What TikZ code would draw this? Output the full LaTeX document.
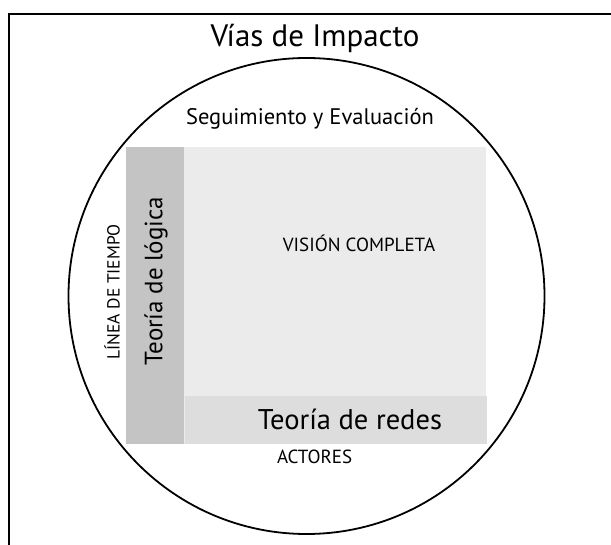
\documentclass[tikz,border=0pt]{standalone}
\usepackage{fontspec}
\setmainfont{PT Sans}
\usetikzlibrary{positioning}
\definecolor{visiongray}{HTML}{EBEBEB}
\definecolor{logicagray}{HTML}{C4C4C4}
\definecolor{redesgray}{HTML}{DDDDDD}
\newcommand{\pxfont}[1]{\fontsize{#1}{#1}\selectfont}

\begin{document}
\begin{tikzpicture}[x=1pt,y=-1pt]
\tikzset{
    area/.style={rectangle, draw=none, inner sep=0pt, anchor=north west},
    caption/.style={inner sep=1pt, text=black}
}
\useasboundingbox (0,0) rectangle (611,545);
\draw[line width=2pt] (9,545) -- (9,14) -- (611,14);
\node[circle, draw, line width=1.8pt, minimum size=476pt, inner sep=0pt] (ring) at (306.5,296) {};

\node[area, fill=visiongray, minimum width=360pt, minimum height=297pt] (vision) at (126,147) {};
\node[area, fill=logicagray, minimum width=58pt, minimum height=297pt] (logica) at (vision.north west) {};
\node[area, fill=redesgray, minimum width=302pt, minimum height=48pt, anchor=south west] (redes) at (logica.south east) {};

\node[caption, font=\pxfont{31}] (titulo) at (315,38) {Vías de Impacto};
\node[caption, font=\pxfont{22.5}] (seguimiento) at (310,119) {Seguimiento y Evaluación};
\node[caption, font=\pxfont{19}] (completa) at (359,243) {VISIÓN COMPLETA};
\node[caption, font=\pxfont{25}, rotate=90] (logicatxt) at (156,281) {Teoría de lógica};
\node[caption, font=\pxfont{17.5}, rotate=90] (tiempo) at (112,292) {LÍNEA DE TIEMPO};
\node[caption, font=\pxfont{28.5}] (redestxt) at (350,419) {Teoría de redes};
\node[caption, font=\pxfont{19}, below=4pt of redes.south, xshift=-21pt] (actores) {ACTORES};
\end{tikzpicture}
\end{document}
